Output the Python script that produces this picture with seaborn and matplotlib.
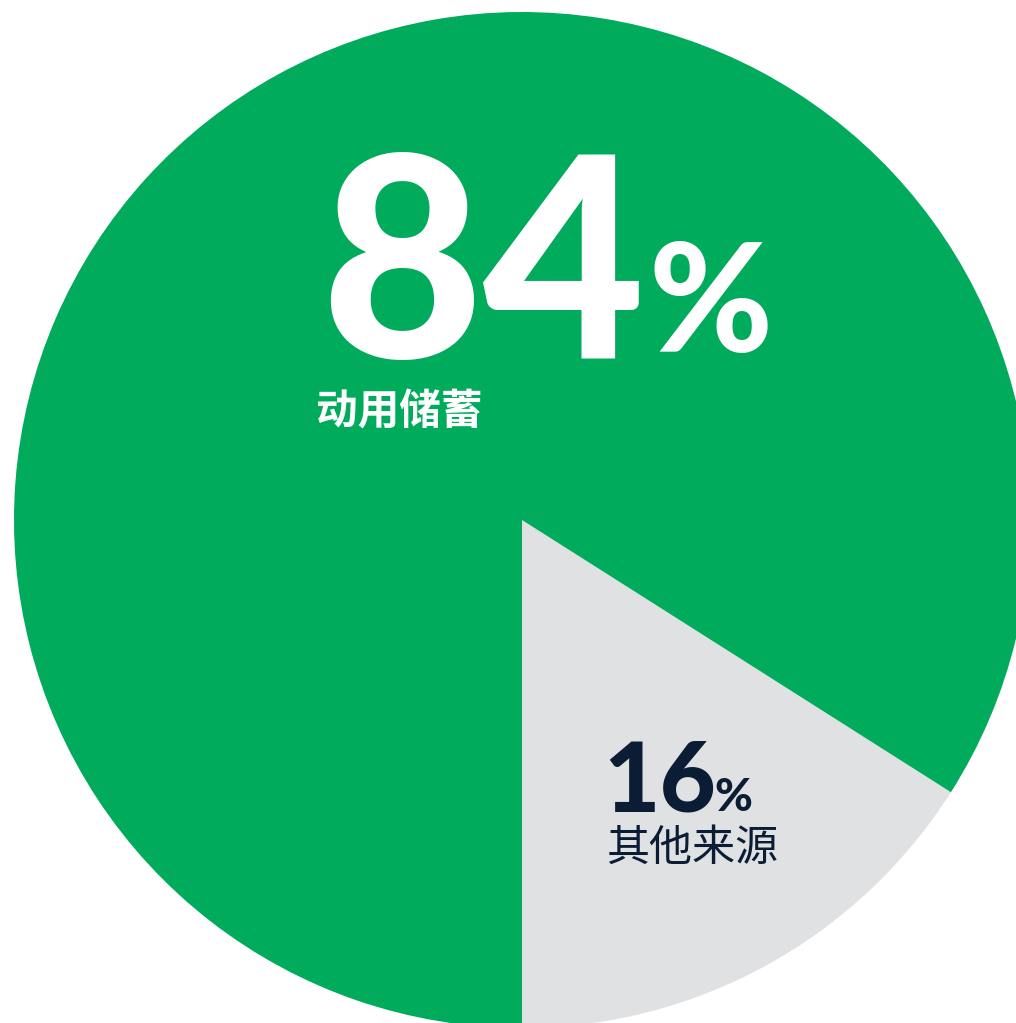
import matplotlib
matplotlib.use("Agg")
import matplotlib.pyplot as plt
import seaborn as sns

sns.set_theme(style="white")
plt.rcParams['font.family'] = ['Lato', 'Noto Sans CJK SC', 'DejaVu Sans']

# Data
labels = ["其他来源", "动用储蓄"]
values = [16, 84]
colors = ["#E0E1E3", "#00AB5B"]
pct_text = ["16", "84"]

W, H = 1016, 1023
fig = plt.figure(figsize=(W / 100, H / 100), dpi=100)
ax = fig.add_axes([0, 0, 1, 1])

R = 508.0
cx, cy = 522.0, 520.0
ax.pie(values, colors=colors, startangle=-90, counterclock=True, radius=1,
       wedgeprops=dict(linewidth=0))
ax.set_xlim(-cx / R, (W - cx) / R)
ax.set_ylim(-(H - cy) / R, cy / R)
ax.set_aspect('auto')
ax.axis('off')

def fx(px):
    return px / W

def fy(py):
    return 1 - py / H

navy = "#0B1C35"

# Large label
fig.text(fx(320), fy(358), pct_text[1], color="white", fontsize=202,
         fontweight="black", family=["Lato", "DejaVu Sans"], ha="left", va="baseline")
fig.text(fx(648), fy(352), "%", color="white", fontsize=108,
         fontweight="black", family=["Lato", "DejaVu Sans"], ha="left", va="baseline")
fig.text(fx(316), fy(425), labels[1], color="white", fontsize=30,
         fontweight="bold", family=["Noto Sans CJK SC", "DejaVu Sans"], ha="left", va="baseline")

# Small label
fig.text(fx(603), fy(812), pct_text[0], color=navy, fontsize=70,
         fontweight="black", family=["Lato", "DejaVu Sans"], ha="left", va="baseline")
fig.text(fx(714), fy(811), "%", color=navy, fontsize=33,
         fontweight="black", family=["Lato", "DejaVu Sans"], ha="left", va="baseline")
fig.text(fx(606), fy(861), labels[0], color=navy, fontsize=31,
         fontweight="light", family=["Noto Sans CJK SC", "DejaVu Sans"], ha="left", va="baseline")

fig.savefig("out.png", dpi=100, facecolor="white")
